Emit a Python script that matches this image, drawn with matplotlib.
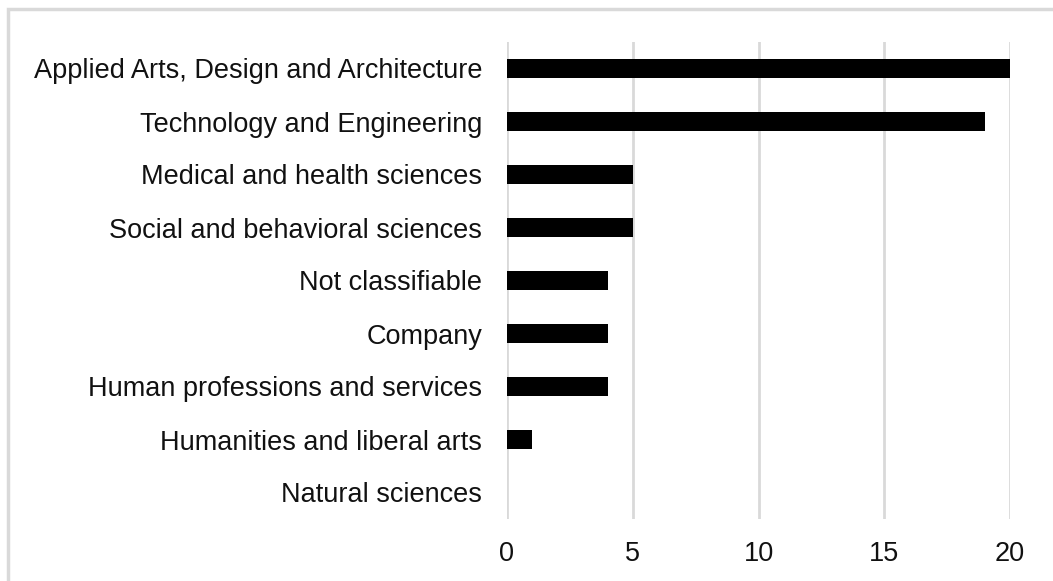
import matplotlib
matplotlib.use("Agg")
import matplotlib.pyplot as plt
from matplotlib.patches import Rectangle

categories = ["Applied Arts, Design and Architecture", "Technology and Engineering",
              "Medical and health sciences", "Social and behavioral sciences",
              "Not classifiable", "Company", "Human professions and services",
              "Humanities and liberal arts", "Natural sciences"]
counts = [20, 19, 5, 5, 4, 4, 4, 1, 0]
xticks = [0, 5, 10, 15, 20]

plt.rcParams['font.family'] = ['Liberation Sans', 'DejaVu Sans']

fig = plt.figure(figsize=(10.53, 5.81), dpi=100)
ax = fig.add_axes([507/1053, 1 - 519/581, 503/1053, 477/581])

ypos = list(range(len(categories)))
ax.barh(ypos, counts, height=0.34, color="black", zorder=3)
ax.set_ylim(len(categories) - 0.5, -0.5)
ax.set_xlim(0, 20)
ax.set_yticks(ypos)
ax.set_yticklabels(categories, fontsize=19.5, color="#111111")
ax.set_xticks(xticks)
ax.set_xticklabels([str(t) for t in xticks], fontsize=19.5, color="#111111")
ax.tick_params(axis="y", length=0, pad=18)
ax.tick_params(axis="x", length=0, pad=16)
ax.grid(axis="x", color="#d9d9d9", linewidth=2, zorder=0)
for s in ax.spines.values():
    s.set_visible(False)

# outer frame (only left/top visible in the crop)
fig.patches.append(Rectangle((8/1053, -0.1), 1.2, (581 - 9)/581 + 0.1,
                             transform=fig.transFigure, fill=False,
                             edgecolor="#d9d9d9", linewidth=2.5))

fig.savefig("out.png", dpi=100)
